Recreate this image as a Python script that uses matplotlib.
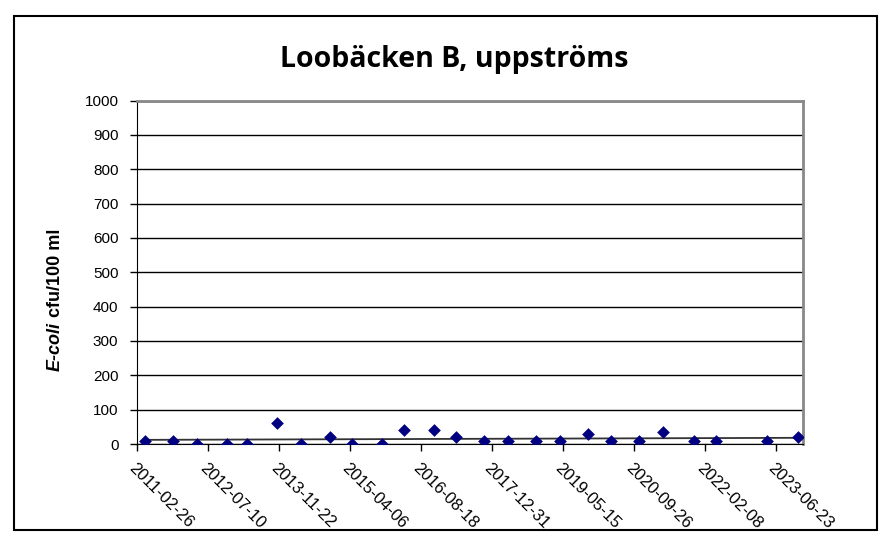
import matplotlib
matplotlib.use("Agg")
import matplotlib.pyplot as plt
import matplotlib.dates as mdates
from matplotlib.patches import Rectangle
import numpy as np
import pandas as pd

title = "Loobäcken B, uppströms"
ylabel_italic = "E-coli"
ylabel_rest = " cfu/100 ml"

sample_dates = ["2011-04-27", "2011-11-08", "2012-04-25", "2012-11-26", "2013-04-16",
                "2013-11-11", "2014-04-27", "2014-11-22", "2015-04-26", "2015-11-22",
                "2016-04-23", "2016-11-20", "2017-04-24", "2017-11-09", "2018-04-23",
                "2018-11-10", "2019-04-24", "2019-11-10", "2020-04-22", "2020-11-05",
                "2021-04-21", "2021-11-27", "2022-04-27", "2023-04-21", "2023-11-25"]
ecoli = [10, 10, 0, 0, 0,
         60, 0, 20, 0, 0,
         40, 40, 20, 10, 10,
         10, 10, 28, 10, 10,
         36, 10, 10, 10, 19]

tick_dates = ["2011-02-26", "2012-07-10", "2013-11-22", "2015-04-06", "2016-08-18",
              "2017-12-31", "2019-05-15", "2020-09-26", "2022-02-08", "2023-06-23"]
x_start = "2011-02-26"
x_end = "2023-12-29"
y_ticks = list(range(0, 1001, 100))

plt.rcParams['font.family'] = ['Liberation Sans', 'DejaVu Sans']

fig = plt.figure(figsize=(8.92, 5.48), dpi=100)
fig.patch.set_facecolor('white')

# outer border
border = Rectangle((14/892, 1-530/548), (877-14)/892, (530-16)/548,
                   transform=fig.transFigure, fill=False,
                   edgecolor='black', linewidth=1.5)
fig.patches.append(border)

ax = fig.add_axes([136.5/892, 1-444/548, (802.5-136.5)/892, (444-100.5)/548])

xd = pd.to_datetime(sample_dates)
ax.scatter(xd, ecoli, marker='D', s=42, color='#000080', zorder=4, linewidths=0)

# linear trendline
xnum = mdates.date2num(xd)
coef = np.polyfit(xnum, ecoli, 1)
tx = np.array([xnum[0], xnum[-1]])
ax.plot(mdates.num2date(tx), np.polyval(coef, tx), color='#333333', lw=1.3, zorder=3)

ax.set_xlim(pd.Timestamp(x_start), pd.Timestamp(x_end))
ax.set_ylim(0, 1000)
ax.set_yticks(y_ticks)
ax.set_yticklabels([str(v) for v in y_ticks], fontsize=11)
ax.yaxis.grid(True, color='black', lw=1)
ax.set_axisbelow(True)

tdn = pd.to_datetime(tick_dates)
ax.set_xticks(tdn)
ax.set_xticklabels(tick_dates, rotation=-45, ha='left', va='top',
                   rotation_mode='anchor', fontsize=12)

ax.spines['top'].set_color('#888888')
ax.spines['top'].set_linewidth(2)
ax.spines['right'].set_color('#888888')
ax.spines['right'].set_linewidth(2)
ax.spines['left'].set_color('black')
ax.spines['bottom'].set_color('black')
ax.tick_params(axis='y', direction='out', length=5, width=1, pad=8)
ax.tick_params(axis='x', direction='out', length=5, width=1, pad=7)

fig.text(454/892, 1-66.5/548, title, ha='center', va='baseline',
         fontsize=20.5, fontweight='bold', family=['Open Sans', 'DejaVu Sans'])

# y label with italic part
fig.canvas.draw()
r = fig.canvas.get_renderer()
t1 = fig.text(55/892, 1-371/548, ylabel_italic, rotation=90, ha='left', va='center',
              rotation_mode='anchor', fontsize=13, fontweight='bold', style='italic')
bb = t1.get_window_extent(renderer=r)
t2 = fig.text(55/892, bb.y1 / fig.bbox.height, ylabel_rest, rotation=90,
              ha='left', va='center', rotation_mode='anchor', fontsize=13,
              fontweight='bold')

fig.savefig("out.png", dpi=100, facecolor='white')
